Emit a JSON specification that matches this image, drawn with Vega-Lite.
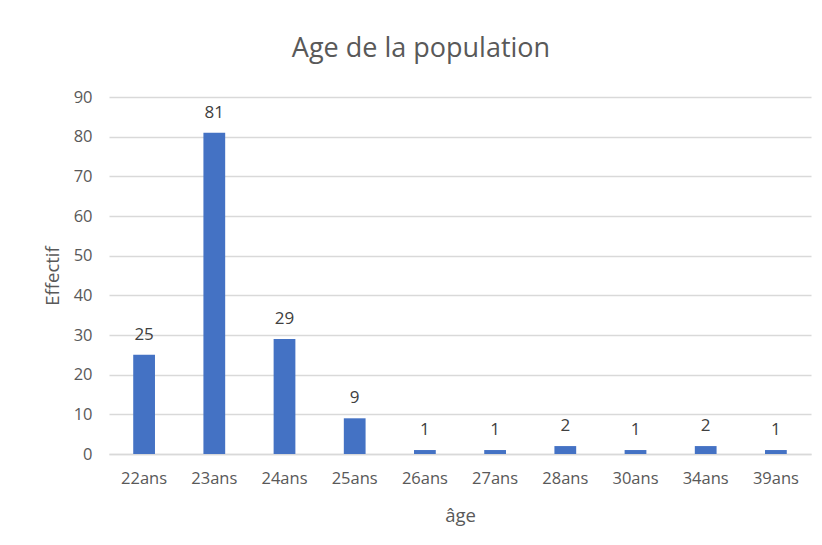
{
  "$schema": "https://vega.github.io/schema/vega-lite/v6.json",
  "autosize": {"type": "none"},
  "padding": {"left": 109, "top": 97, "right": 11, "bottom": 91},
  "width": 702,
  "height": 357,
  "background": "white",
  "config": {
    "font": "Open Sans",
    "view": {"stroke": null},
    "axis": {"labelFont": "Open Sans", "titleFont": "Open Sans", "labelColor": "#595959", "titleColor": "#595959", "labelFontSize": 16.5, "titleFontSize": 18.5, "titleFontWeight": "normal"}
  },
  "title": {"text": "Age de la population", "fontSize": 27, "font": "Open Sans", "fontWeight": "normal", "color": "#595959", "anchor": "middle", "dx": -39, "offset": 26},
  "data": {"values": [
    {"age": "22ans", "effectif": 25},
    {"age": "23ans", "effectif": 81},
    {"age": "24ans", "effectif": 29},
    {"age": "25ans", "effectif": 9},
    {"age": "26ans", "effectif": 1},
    {"age": "27ans", "effectif": 1},
    {"age": "28ans", "effectif": 2},
    {"age": "30ans", "effectif": 1},
    {"age": "34ans", "effectif": 2},
    {"age": "39ans", "effectif": 1}
  ]},
  "encoding": {
    "x": {"field": "age", "type": "nominal", "sort": null, "title": "âge",
      "scale": {"paddingInner": 0.69, "paddingOuter": 0.345},
      "axis": {"labelAngle": 0, "ticks": false, "domainColor": "#d9d9d9", "domainWidth": 1.5, "labelPadding": 16, "titleY": 61, "titleBaseline": "middle"}},
    "y": {"field": "effectif", "type": "quantitative", "title": "Effectif",
      "scale": {"domain": [0, 90]},
      "axis": {"values": [0,10,20,30,40,50,60,70,80,90], "domain": false, "ticks": false, "gridColor": "#d9d9d9", "gridWidth": 1.5, "labelPadding": 17, "titleX": -57, "titleBaseline": "middle"}}
  },
  "layer": [
    {"mark": {"type": "bar", "color": "#4472c4"}},
    {"mark": {"type": "text", "dy": -11, "baseline": "bottom", "fontSize": 17, "color": "#404040", "font": "Open Sans"},
     "encoding": {"text": {"field": "effectif", "type": "quantitative"}}}
  ]
}
